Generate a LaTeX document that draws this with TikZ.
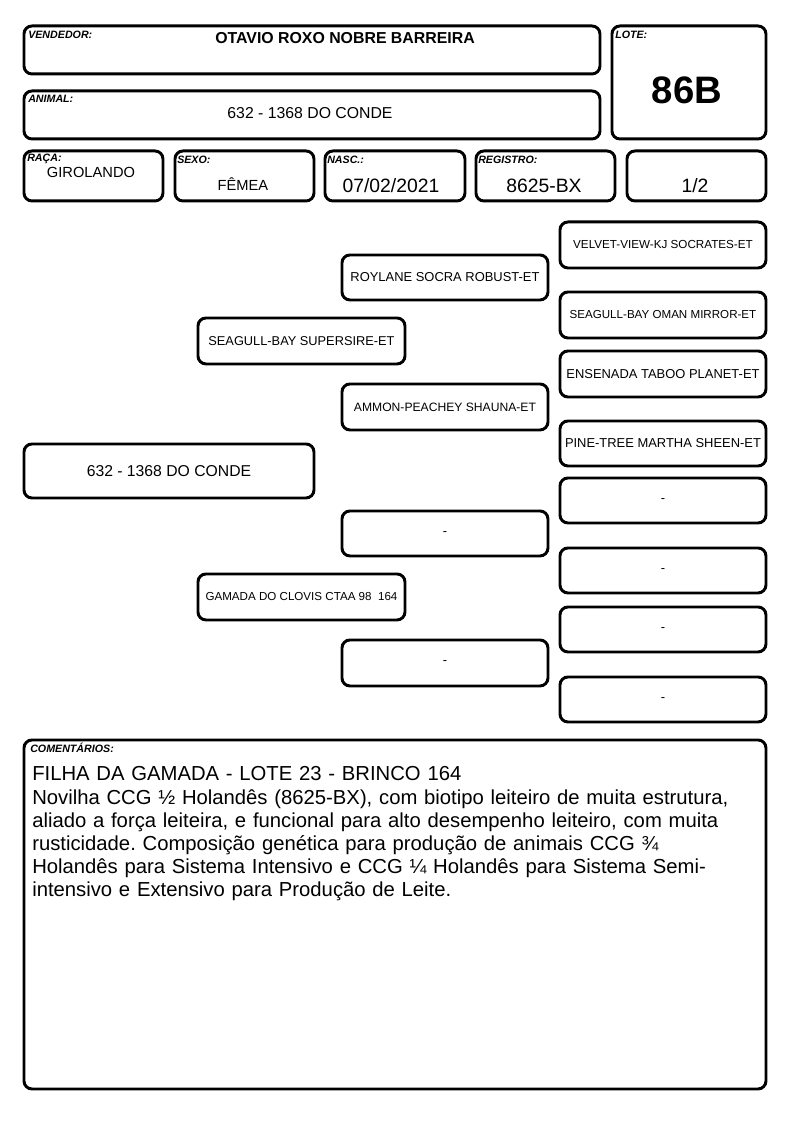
\documentclass[tikz,border=0pt]{standalone}
\usepackage{fontspec}
\setmainfont{Liberation Sans}
\frenchspacing
\newcommand\fs[1]{\fontsize{#1}{#1}\selectfont}
\newcommand\bx[6]{\node[box, minimum width={(#4-#2-3)*0.75pt}, minimum height={(#5-#3-3)*0.75pt}] (#1) at (#2+1.5,#3+1.5) {#6};}
\begin{document}
\begin{tikzpicture}[x=0.75pt,y=-0.75pt,
  box/.style={draw, line width=2.2pt, rounded corners=6pt, inner sep=0pt, anchor=north west, align=center, font=\fs{9.7}},
  lab/.style={font=\bfseries\itshape\fs{8}, anchor=west, inner sep=0pt},
  val/.style={inner sep=0pt}]
\fill[white] (0,0) rectangle (794,1123);
\useasboundingbox (0,0) rectangle (794,1123);
% header
\bx{vend}{21}{23}{600}{74}{}
\node[lab] (vendl) at (28,35) {VENDEDOR:};
\node[val, font=\bfseries\fs{11.9}] (vendv) at (345,38) {OTAVIO ROXO NOBRE BARREIRA};
\bx{anim}{21}{88}{600}{139}{}
\node[lab] (animl) at (28,99) {ANIMAL:};
\node[val, font=\fs{11.85}] (animv) at (310,113) {632 - 1368 DO CONDE};
\bx{lote}{609}{23}{766}{139}{}
\node[lab] (lotel) at (615,35) {LOTE:};
\node[val, font=\bfseries\fs{28.7}] (lotev) at (687,90) {86B};
\bx{raca}{21}{148}{163}{201}{}
\node[lab] (racal) at (27,159) {RAÇA:};
\node[val, font=\fs{11}] (racav) at (91,172) {GIROLANDO};
\bx{sexo}{172}{148}{314}{201}{}
\node[lab] (sexol) at (177,160) {SEXO:};
\node[val, font=\fs{11}] (sexov) at (243,184) {FÊMEA};
\bx{nasc}{322}{148}{465}{201}{}
\node[lab] (nascl) at (327,160) {NASC.:};
\node[val, font=\fs{14.5}] (nascv) at (391,186) {07/02/2021};
\bx{reg}{473}{148}{615}{201}{}
\node[lab] (regl) at (478,160) {REGISTRO:};
\node[val, font=\fs{14.5}] (regv) at (544,186) {8625-BX};
\bx{frac}{624}{148}{766}{201}{}
\node[val, font=\fs{14.5}] (fracv) at (695,186) {1/2};
% pedigree
\bx{root}{21}{441}{314}{498}{\fs{11.8}632 - 1368 DO CONDE}
\bx{s}{195}{315}{405}{364}{\fs{9.6}SEAGULL-BAY SUPERSIRE-ET}
\bx{d}{195}{571}{405}{620}{\fs{8.7}GAMADA DO CLOVIS CTAA 98\ \ 164}
\bx{ss}{339}{252}{548}{300}{ROYLANE SOCRA ROBUST-ET}
\bx{sd}{339}{381}{548}{430}{\fs{9.1}AMMON-PEACHEY SHAUNA-ET}
\bx{ds}{339}{508}{548}{556}{-}
\bx{dd}{339}{637}{548}{686}{-}
\bx{sss}{557}{219}{766}{268}{\fs{8.75}VELVET-VIEW-KJ SOCRATES-ET}
\bx{ssd}{557}{289}{766}{338}{\fs{8.7}SEAGULL-BAY OMAN MIRROR-ET}
\bx{sds}{557}{348}{766}{397}{ENSENADA TABOO PLANET-ET}
\bx{sdd}{557}{418}{766}{466}{PINE-TREE MARTHA SHEEN-ET}
\bx{dss}{557}{475}{766}{523}{-}
\bx{dsd}{557}{545}{766}{593}{-}
\bx{dds}{557}{604}{766}{652}{-}
\bx{ddd}{557}{674}{766}{722}{-}
% comments
\bx{com}{21}{737}{766}{1089}{}
\node[lab] (coml) at (30,748) {COMENTÁRIOS:};
\node[inner sep=0pt, anchor=north west, text width=735*0.75pt, align=left, font=\fontsize{15.2}{17.4}\selectfont] (comv) at (32,766.5)
{FILHA DA GAMADA - LOTE 23 - BRINCO 164\\
Novilha CCG ½ Holandês (8625-BX), com biotipo leiteiro de muita estrutura,\\
aliado a força leiteira, e funcional para alto desempenho leiteiro, com muita\\
rusticidade. Composição genética para produção de animais CCG ¾\\
Holandês para Sistema Intensivo e CCG ¼ Holandês para Sistema Semi-\\
intensivo e Extensivo para Produção de Leite.};
\end{tikzpicture}
\end{document}
